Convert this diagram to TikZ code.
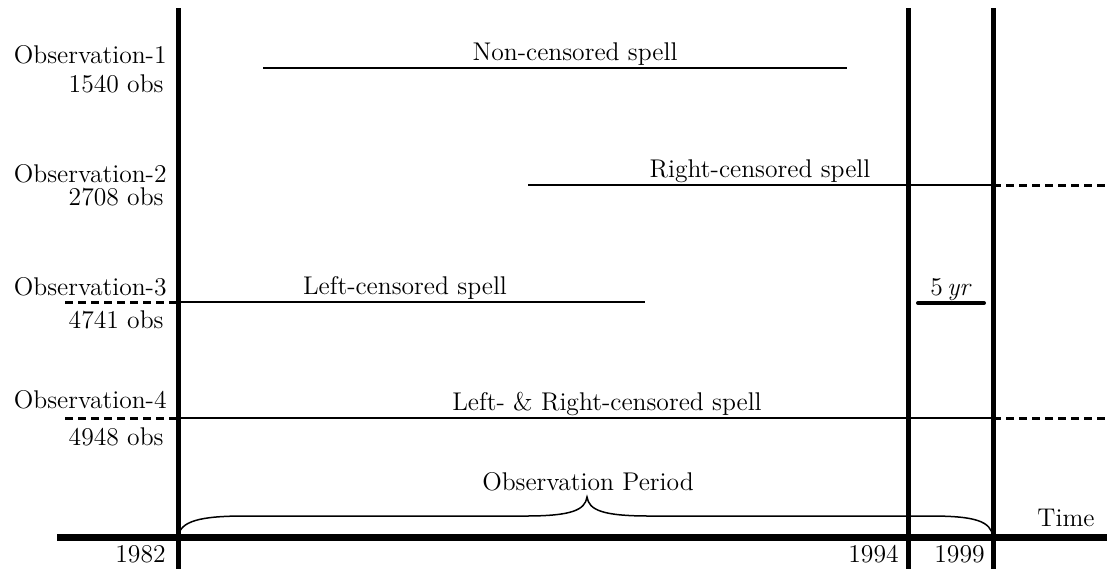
\documentclass[tikz,border=0pt]{standalone}
\usetikzlibrary{calc}
\begin{document}
\begin{tikzpicture}[x=0.5pt,y=-0.5pt,
  every node/.style={font=\fontsize{12.8}{15}\selectfont, inner sep=1pt},
  axis/.style={line width=3.5pt},
  period/.style={line width=2.5pt},
  spell/.style={line width=0.75pt},
  censor/.style={line width=1.5pt, dash pattern=on 4pt off 2.5pt},
  obsname/.style={anchor=base east},
  obscount/.style={anchor=base east},
  spelllabel/.style={anchor=base},
  yearlabel/.style={anchor=base east}]
\useasboundingbox (0,0) rectangle (1107,569);

% time axis and period boundaries
\coordinate (t0) at (57,537);
\coordinate (tend) at (1107,537);
\coordinate (a82top) at (178,8);   \coordinate (a82bot) at (178,569);
\coordinate (a94top) at (908,8);   \coordinate (a94bot) at (908,569);
\coordinate (a99top) at (993,8);   \coordinate (a99bot) at (993,569);
\draw[axis] (t0) -- (tend);
\draw[period] (a82top) -- (a82bot);
\draw[period] (a94top) -- (a94bot);
\draw[period] (a99top) -- (a99bot);

% observation labels
\node[obsname]  (o1) at (169,63)  {Observation-1};
\node[obscount] (n1) at (166,92)  {1540 obs};
\node[obsname]  (o2) at (169,182) {Observation-2};
\node[obscount] (n2) at (166,205) {2708 obs};
\node[obsname]  (o3) at (169,295) {Observation-3};
\node[obscount] (n3) at (166,328) {4741 obs};
\node[obsname]  (o4) at (169,408) {Observation-4};
\node[obscount] (n4) at (166,445) {4948 obs};

% spell 1: non-censored
\coordinate (s1a) at (263,68); \coordinate (s1b) at (847,68);
\draw[spell] (s1a) -- (s1b);
\node[spelllabel] (l1) at (575,60) {Non-censored spell};

% spell 2: right-censored
\coordinate (s2a) at (528,185); \coordinate (s2b) at (993,185); \coordinate (s2c) at (1107,185);
\draw[spell] (s2a) -- (s2b);
\draw[censor] (s2b) -- (s2c);
\node[spelllabel] (l2) at (760,177) {Right-censored spell};

% spell 3: left-censored
\coordinate (s3l) at (65,302); \coordinate (s3a) at (178,302); \coordinate (s3b) at (645,302);
\draw[censor] (s3l) -- (s3a);
\draw[spell] (s3a) -- (s3b);
\node[spelllabel] (l3) at (405,294) {Left-censored spell};

% spell 4: left- and right-censored
\coordinate (s4l) at (65,418); \coordinate (s4a) at (178,418); \coordinate (s4b) at (993,418); \coordinate (s4c) at (1107,418);
\draw[censor] (s4l) -- (s4a);
\draw[spell] (s4a) -- (s4b);
\draw[censor] (s4b) -- (s4c);
\node[spelllabel] (l4) at (607,410) {Left- \& Right-censored spell};

% five-year scale bar
\coordinate (yr0) at (918,303); \coordinate (yr1) at (984,303);
\draw[line width=2pt, line cap=round] (yr0) -- (yr1);
\node[spelllabel] (yr) at (951,295) {5\,\textit{yr}};

% observation period brace
\draw[line width=0.75pt] (178,537) .. controls (180,521) and (200,516) .. (245,516)
  -- (525,516) .. controls (572,516) and (585,510) .. (587,497)
  .. controls (589,510) and (602,516) .. (650,516)
  -- (930,516) .. controls (975,516) and (991,521) .. (993,537);
\node[spelllabel] (op) at (588,490) {Observation Period};

% years and time
\node[yearlabel] (y82) at (168,562) {1982};
\node[yearlabel] (y94) at (901,562) {1994};
\node[yearlabel] (y99) at (987,562) {1999};
\node[anchor=base] (time) at (1066,526) {Time};
\end{tikzpicture}
\end{document}
